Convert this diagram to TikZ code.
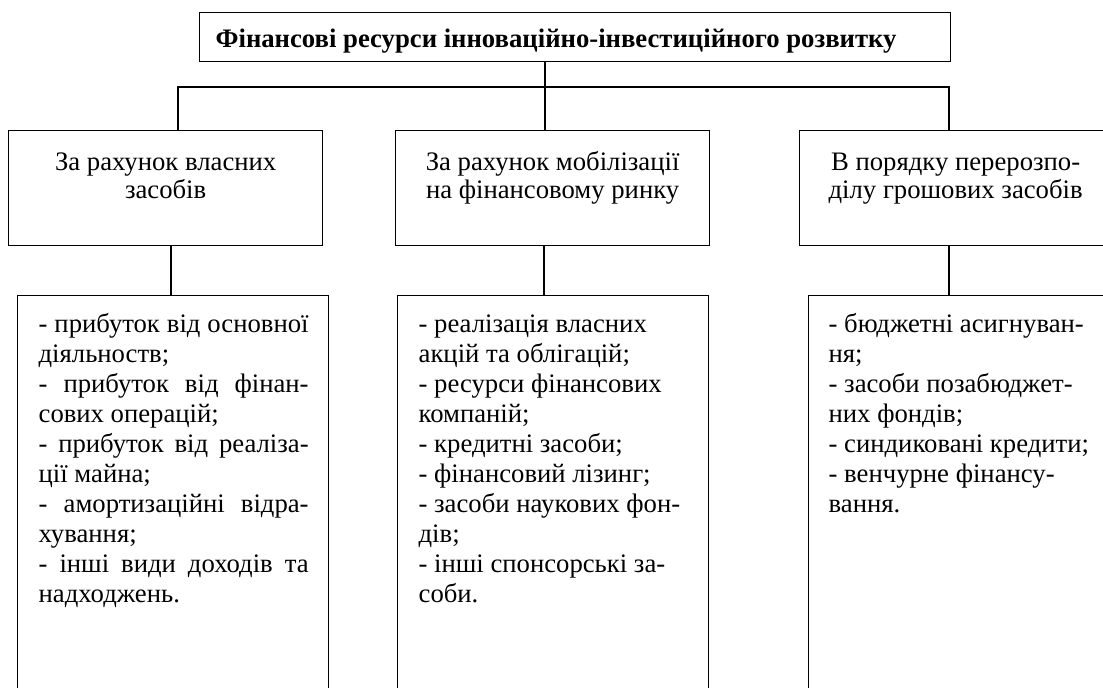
\documentclass[tikz,border=0pt]{standalone}
\usepackage{fontspec}
\setmainfont{Liberation Serif}
\tikzset{
  box/.style={draw, line width=1.3pt, inner sep=0pt, anchor=north west},
  conn/.style={line width=1.3pt},
}
\newcommand{\fs}{\fontsize{26.7}{30}\selectfont}
\newcommand{\headtext}[2]{\parbox[t][115pt][t]{#1}{\centering\fontsize{26.7}{28}\selectfont\rule{0pt}{40pt}#2}}
\newcommand{\listtext}[3]{\parbox[t][470pt][t]{#1}{\fs\raggedright\leftskip=#2\rule{0pt}{37pt}#3}}
\newcommand{\js}[1]{\makebox[270pt][s]{#1}}
\begin{document}
\begin{tikzpicture}[x=1pt,y=-1pt]
\useasboundingbox (0,0) rectangle (1103,688);
\clip (0,0) rectangle (1103,688);
% title
\node[box] (title) at (199,12) {\parbox[t][49pt][t]{751pt}{\fs\hspace*{16pt}\rule{0pt}{35pt}\textbf{Фінансові ресурси інноваційно-інвестиційного розвитку}}};
% category boxes
\node[box] (b1) at (8,130) {\headtext{314pt}{За рахунок власних\\засобів}};
\node[box] (b2) at (395,130) {\headtext{314pt}{За рахунок мобілізації\\на фінансовому ринку}};
\node[box] (b3) at (799,130) {\headtext{312pt}{В порядку перерозпо-\\ділу грошових засобів}};
% list boxes
\node[box] (d1) at (17,295) {\listtext{311pt}{21pt}{%
\js{- прибуток від основної}\\
діяльноств;\\
\js{- прибуток від фінан-}\\
сових операцій;\\
\js{- прибуток від реаліза-}\\
ції майна;\\
\js{- амортизаційні відра-}\\
хування;\\
\js{- інші види доходів та}\\
надходжень.}};
\node[box] (d2) at (397,295) {\listtext{311pt}{21pt}{%
- реалізація власних\\
акцій та облігацій;\\
- ресурси фінансових\\
компаній;\\
- кредитні засоби;\\
- фінансовий лізинг;\\
- засоби наукових фон-\\
дів;\\
- інші спонсорські за-\\
соби.}};
\node[box] (d3) at (808,295) {\listtext{302pt}{20pt}{%
- бюджетні асигнуван-\\
ня;\\
- засоби позабюджет-\\
них фондів;\\
- синдиковані кредити;\\
- венчурне фінансу-\\
вання.}};
% junction coordinates
\coordinate (hl) at (178,87);
\coordinate (hm) at (545,87);
\coordinate (hr) at (949,87);
\coordinate (v1) at (171,270);
\coordinate (v2) at (544,270);
\coordinate (v3) at (949,270);
% connectors
\draw[conn] (title.south -| hm) -- (hm) -- (b2.north -| hm);
\draw[conn] (b1.north -| hl) -- (hl) -- (hr) -- (b3.north -| hr);
\draw[conn] (b1.south -| v1) -- (d1.north -| v1);
\draw[conn] (b2.south -| v2) -- (d2.north -| v2);
\draw[conn] (b3.south -| v3) -- (d3.north -| v3);
\end{tikzpicture}
\end{document}
